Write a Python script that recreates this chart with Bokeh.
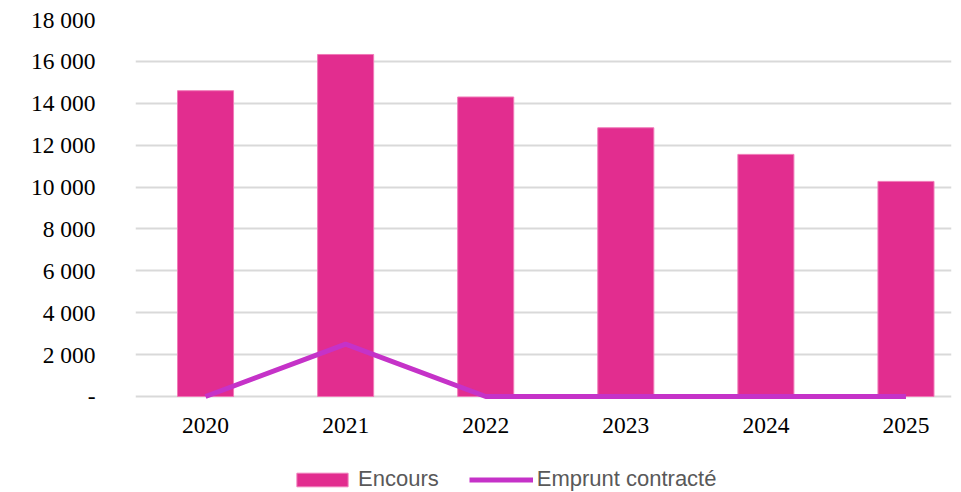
from bokeh.plotting import figure
from bokeh.models import ColumnDataSource, Range1d, FixedTicker, Legend, LegendItem
from bokeh.core.properties import value
from bokeh.embed import file_html
from bokeh.resources import INLINE

years = ["2020", "2021", "2022", "2023", "2024", "2025"]
encours = [14600, 16330, 14300, 12830, 11560, 10270]
emprunt = [0, 2500, 0, 0, 0, 0]
y_ticks = [0, 2000, 4000, 6000, 8000, 10000, 12000, 14000, 16000, 18000]
y_labels = ["-", "2 000", "4 000", "6 000", "8 000", "10 000", "12 000", "14 000", "16 000", "18 000"]

idx = list(range(len(years)))
base = [0] * len(years)
src = ColumnDataSource(dict(x=idx, enc=encours, emp=emprunt, yr=years, base=base))

p = figure(frame_width=816, frame_height=473, output_backend="svg", toolbar_location=None,
           x_range=Range1d(-0.5, 5.325), y_range=Range1d(-4584, 18000),
           min_border_left=135, min_border_right=10, min_border_top=19, min_border_bottom=0)
p.outline_line_color = None
p.background_fill_color = "white"

p.ygrid.ticker = FixedTicker(ticks=y_ticks)
p.ygrid.grid_line_color = "#D9D9D9"
p.ygrid.grid_line_width = 2
p.xgrid.grid_line_color = None

bars = p.vbar(x="x", top="enc", bottom="base", width=0.4, source=src, fill_color="#E22D8F",
              line_color="#F07AB8", line_width=1)
line = p.line(x="x", y="emp", source=src, line_color="#C532C8", line_width=5)

# category labels under the baseline
p.text(x="x", y="base", text="yr", source=src, text_align="center", text_baseline="middle",
       y_offset=29.5, text_font=value("Liberation Serif"), text_font_size="23.5px",
       text_color="#000000")

p.xaxis.visible = False
p.yaxis.ticker = FixedTicker(ticks=y_ticks)
p.yaxis.major_label_overrides = {t: l for t, l in zip(y_ticks, y_labels)}
p.yaxis.axis_line_color = None
p.yaxis.major_tick_line_color = None
p.yaxis.minor_tick_line_color = None
p.yaxis.major_tick_out = 0
p.yaxis.major_tick_in = 0
p.yaxis.major_label_text_font = "Liberation Serif"
p.yaxis.major_label_text_font_size = "23.5px"
p.yaxis.major_label_text_color = "#000000"
p.yaxis.major_label_standoff = 40

legend = Legend(items=[LegendItem(label="Encours", renderers=[bars]),
                       LegendItem(label="Emprunt contracté", renderers=[line])],
                orientation="horizontal", location=(155, 0),
                label_text_font="Liberation Sans", label_text_font_size="22px",
                label_text_color="#595959", glyph_width=64, glyph_height=17,
                spacing=30, border_line_color=None, background_fill_alpha=0,
                margin=0, padding=0, label_standoff=4)
p.add_layout(legend, "center")

open("out.html", "w").write(file_html(p, INLINE))
